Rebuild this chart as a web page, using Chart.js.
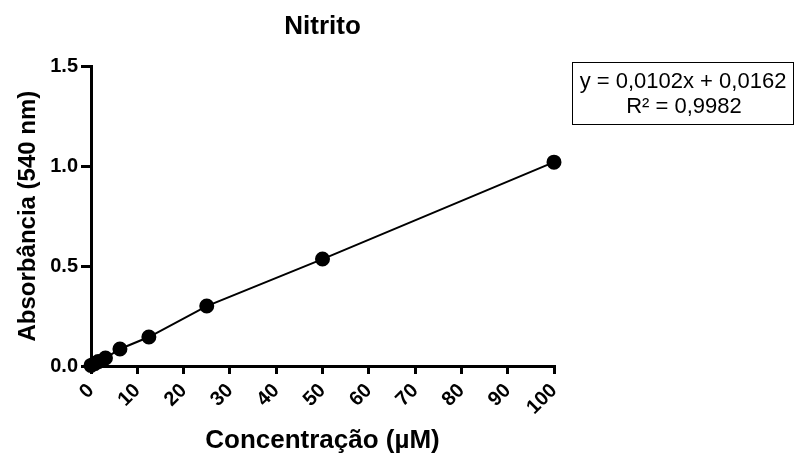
<!DOCTYPE html>
<html>
<head>
<meta charset="utf-8">
<script src="https://cdn.jsdelivr.net/npm/chart.js@4/dist/chart.umd.min.js"></script>
<style>
  html, body { margin: 0; padding: 0; background: #fff; }
  #wrap { width: 795px; height: 458px; }
</style>
</head>
<body>
<div id="wrap"><canvas id="chart" width="795" height="458"></canvas></div>
<script>
// Nitrito standard curve
const concentrations = [0, 0.78125, 1.5625, 3.125, 6.25, 12.5, 25, 50, 100];
const absorbance = [0.003, 0.012, 0.022, 0.04, 0.085, 0.145, 0.30, 0.535, 1.02];
const equationLines = ['y = 0,0102x + 0,0162', 'R² = 0,9982'];

const FONT = "'Liberation Sans', Arial, sans-serif";

const equationBox = {
  id: 'equationBox',
  afterDraw(chart) {
    const c = chart.ctx;
    c.save();
    c.strokeStyle = '#000';
    c.lineWidth = 1;
    c.strokeRect(572.5, 62.5, 221, 62);
    c.fillStyle = '#000';
    c.font = `22px ${FONT}`;
    c.textAlign = 'center';
    c.textBaseline = 'middle';
    c.fillText(equationLines[0], 683, 82);
    c.fillText(equationLines[1], 684, 107);
    c.restore();
  }
};

new Chart(document.getElementById('chart'), {
  type: 'scatter',
  data: {
    datasets: [{
      data: concentrations.map((x, i) => ({ x, y: absorbance[i] })),
      showLine: true,
      borderColor: '#000',
      backgroundColor: '#000',
      borderWidth: 2,
      pointRadius: 6.5,
      pointHoverRadius: 6.5,
      clip: false
    }]
  },
  options: {
    responsive: false,
    animation: false,
    events: [],
    layout: { padding: { left: 0, right: 241, top: 0, bottom: 0 } },
    plugins: {
      legend: { display: false },
      tooltip: { enabled: false },
      title: {
        display: true,
        text: 'Nitrito',
        fullSize: false,
        color: '#000',
        font: { family: FONT, size: 26, weight: 'bold' },
        padding: { top: 11, bottom: 24 }
      }
    },
    scales: {
      x: {
        type: 'linear',
        min: 0, max: 100,
        border: { color: '#000', width: 3 },
        grid: { drawOnChartArea: false, drawTicks: true, tickLength: 8, color: '#000', lineWidth: 3 },
        ticks: {
          stepSize: 10,
          color: '#000',
          minRotation: 45, maxRotation: 45,
          padding: 5,
          font: { family: FONT, size: 20, weight: 'bold' }
        },
        title: {
          display: true,
          text: 'Concentração (µM)',
          color: '#000',
          font: { family: FONT, size: 26, weight: 'bold' },
          padding: { top: 4, bottom: 2 }
        },
        afterFit(scale) { scale.height = 92; }
      },
      y: {
        min: 0, max: 1.5,
        border: { color: '#000', width: 3 },
        grid: { drawOnChartArea: false, drawTicks: true, tickLength: 10, color: '#000', lineWidth: 3 },
        ticks: {
          stepSize: 0.5,
          color: '#000',
          padding: 3,
          font: { family: FONT, size: 20, weight: 'bold' },
          callback: v => Number(v).toFixed(1)
        },
        title: {
          display: true,
          text: 'Absorbância (540 nm)',
          color: '#000',
          font: { family: FONT, size: 24, weight: 'bold' },
          padding: { top: 14, bottom: 4 }
        },
        afterFit(scale) { scale.width = 91; }
      }
    }
  },
  plugins: [equationBox]
});
</script>
</body>
</html>
